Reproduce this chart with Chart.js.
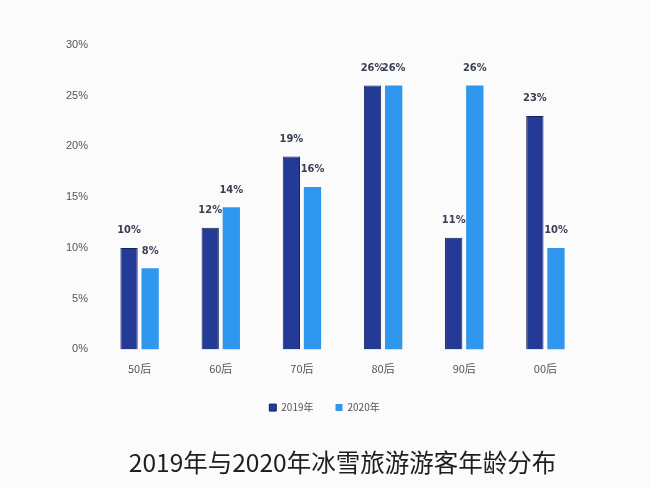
<!DOCTYPE html>
<html>
<head>
<meta charset="utf-8">
<script src="https://cdn.jsdelivr.net/npm/chart.js@4/dist/chart.umd.min.js"></script>
<style>
  html, body { margin: 0; padding: 0; background: #fbfbfb; }
  #wrap { width: 651px; height: 488px; }
</style>
</head>
<body>
<div id="wrap"><canvas id="ages" width="651" height="488"></canvas></div>
<script>
var categories = ['50后', '60后', '70后', '80后', '90后', '00后'];
var seriesNames = ['2019年', '2020年'];
var values2019 = [10, 12, 19, 26, 11, 23];
var values2020 = [8, 14, 16, 26, 26, 10];
var yTicks = [0, 5, 10, 15, 20, 25, 30];

// draws "xx%" above each bar
var barLabels = {
  id: 'barLabels',
  afterDatasetsDraw: function(chart) {
    var ctx = chart.ctx;
    ctx.save();
    ctx.font = 'bold 11px "Liberation Sans Narrow", "DejaVu Sans Condensed", sans-serif';
    ctx.fillStyle = '#3a3f55';
    ctx.textAlign = 'center';
    ctx.textBaseline = 'bottom';
    chart.data.datasets.forEach(function(ds, i) {
      chart.getDatasetMeta(i).data.forEach(function(bar, j) {
        ctx.fillText(ds.data[j] + '%', bar.x, bar.y - 12);
      });
    });
    ctx.restore();
  }
};

var ctx = document.getElementById('ages');
var chart = new Chart(ctx, {
  type: 'bar',
  data: {
    labels: categories,
    datasets: [{
      label: seriesNames[0],
      data: values2019,
      backgroundColor: '#233a97',
      borderColor: '#16225e',
      borderWidth: 1,
      categoryPercentage: 0.52,
      barPercentage: 0.82
    }, {
      label: seriesNames[1],
      data: values2020,
      backgroundColor: '#2f97ee',
      borderWidth: 0,
      categoryPercentage: 0.52,
      barPercentage: 0.82
    }]
  },
  options: {
    responsive: false,
    animation: false,
    layout: { padding: { left: 63, right: 65, top: 45, bottom: 11 } },
    scales: {
      x: {
        grid: { display: false },
        border: { display: false },
        ticks: {
          color: '#555',
          font: { size: 11, family: '"Noto Sans CJK SC", sans-serif' },
          padding: 5
        }
      },
      y: {
        min: 0,
        max: 30,
        afterBuildTicks: function(axis) {
          axis.ticks = yTicks.map(function(v) { return { value: v }; });
        },
        grid: { display: false },
        border: { display: false },
        ticks: {
          color: '#555',
          font: { size: 11, family: '"Liberation Sans Narrow", sans-serif' },
          padding: 3,
          callback: function(v) { return v + '%'; }
        }
      }
    },
    plugins: {
      legend: {
        position: 'bottom',
        labels: {
          boxWidth: 7,
          boxHeight: 7,
          color: '#555',
          font: { size: 10, family: '"Noto Sans CJK SC", sans-serif' },
          padding: 22
        }
      },
      title: {
        display: true,
        position: 'bottom',
        fullSize: false,
        text: '2019年与2020年冰雪旅游游客年龄分布',
        color: '#1e1e1e',
        font: { size: 24.5, weight: 'normal', family: '"Noto Sans CJK SC", sans-serif' },
        padding: { top: 25, bottom: 0 }
      },
      tooltip: { enabled: false }
    }
  },
  plugins: [barLabels]
});
</script>
</body>
</html>
